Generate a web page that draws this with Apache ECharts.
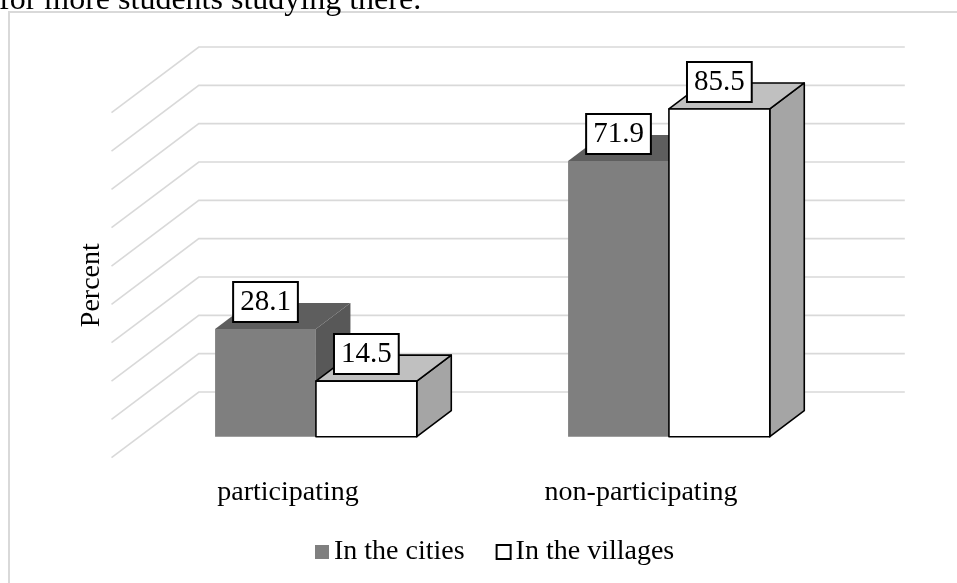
<!DOCTYPE html>
<html>
<head>
<meta charset="utf-8">
<script src="https://cdn.jsdelivr.net/npm/echarts@6/dist/echarts.min.js"></script>
<style>
  html, body { margin: 0; padding: 0; background: #fff; }
  #chart { width: 957px; height: 583px; }
</style>
</head>
<body>
<div id="chart"></div>
<script>
// Share of students by participation, split by place of residence (percent)
const categories = ['participating', 'non-participating'];
const citiesValues = [28.1, 71.9];
const villagesValues = [14.5, 85.5];
const seriesNames = ['In the cities', 'In the villages'];
const gridValues = [0, 10, 20, 30, 40, 50, 60, 70, 80, 90];

const FONT = "'Liberation Serif', 'Times New Roman', serif";
// Oblique depth vector of the floor, from its front edge to the back wall (px)
const DEPTH = [87.3, -65.7];
// Bars stand between these fractions of the floor depth
const BAR_FRONT = 0.32;
const BAR_BACK = 0.715;

const faces = [
  { front: '#7f7f7f', top: '#5e5e5e', side: '#585858', stroke: null },
  { front: '#ffffff', top: '#c0c0c0', side: '#a5a5a5', stroke: '#000000' }
];

// Back wall and left wall gridlines: one bent line per tick value
function wallRenderer(params, api) {
  const v = api.value(1);
  const cs = params.coordSys;
  const y = api.coord([0, v])[1];
  const xl = cs.x;
  const xr = cs.x + cs.width;
  return {
    type: 'polyline',
    shape: { points: [[xl, y], [xl + DEPTH[0], y + DEPTH[1]], [xr + DEPTH[0], y + DEPTH[1]]] },
    style: { stroke: '#d9d9d9', lineWidth: 1.6, fill: null }
  };
}

// Pseudo-3D column: front, top and side faces plus a boxed value label
function barRenderer(slot) {
  return function (params, api) {
    const idx = api.value(0);
    const val = api.value(1);
    const top = api.coord([idx, val]);
    const base = api.coord([idx, 0]);
    const band = api.size([1, 0])[0];
    const w = band / 3.5;
    const x0 = top[0] - w + slot * w;
    const x1 = x0 + w;
    const fx = DEPTH[0] * BAR_FRONT, fy = DEPTH[1] * BAR_FRONT;
    const bx = DEPTH[0] * BAR_BACK, by = DEPTH[1] * BAR_BACK;
    const c = faces[slot];
    const edge = c.stroke
      ? { stroke: c.stroke, lineWidth: 1.6, lineJoin: 'round' }
      : { stroke: null };
    const yt = top[1], yb = base[1];
    return {
      type: 'group',
      children: [
        {
          type: 'polygon',
          shape: { points: [[x1 + fx, yt + fy], [x1 + bx, yt + by], [x1 + bx, yb + by], [x1 + fx, yb + fy]] },
          style: Object.assign({ fill: c.side }, edge)
        },
        {
          type: 'polygon',
          shape: { points: [[x0 + fx, yt + fy], [x0 + bx, yt + by], [x1 + bx, yt + by], [x1 + fx, yt + fy]] },
          style: Object.assign({ fill: c.top }, edge)
        },
        {
          type: 'rect',
          shape: { x: x0 + fx, y: yt + fy, width: w, height: yb - yt },
          style: Object.assign({ fill: c.front }, edge)
        },
        {
          type: 'text',
          z2: 10,
          style: {
            text: val.toFixed(1),
            x: (x0 + x1) / 2 + fx,
            y: yt + fy - 27,
            align: 'center',
            verticalAlign: 'middle',
            font: '29px ' + FONT,
            fill: '#000',
            backgroundColor: '#fff',
            borderColor: '#000',
            borderWidth: 2,
            padding: [5, 6, 3, 6],
            lineHeight: 30
          }
        }
      ]
    };
  };
}

const chart = echarts.init(document.getElementById('chart'), null, { renderer: 'canvas' });

chart.setOption({
  backgroundColor: '#ffffff',
  animation: false,
  graphic: [
    {
      type: 'rect',
      z: -10,
      shape: { x: 9, y: 12, width: 1200, height: 1200 },
      style: { fill: null, stroke: '#d9d9d9', lineWidth: 2 }
    },
    {
      type: 'text',
      style: {
        text: 'for more students studying there.',
        x: -1,
        y: 1,
        verticalAlign: 'middle',
        font: '32px ' + FONT,
        fill: '#000'
      }
    }
  ],
  grid: { left: 111.5, top: 112.7, width: 706, height: 345 },
  legend: {
    left: 315,
    top: 538,
    padding: 0,
    itemWidth: 14,
    itemHeight: 14,
    itemGap: 31,
    selectedMode: false,
    textStyle: { fontSize: 28, fontFamily: FONT, color: '#000' },
    data: [
      { name: seriesNames[0], icon: 'rect', itemStyle: { color: faces[0].front, borderWidth: 0 } },
      { name: seriesNames[1], icon: 'rect', itemStyle: { color: '#ffffff', borderColor: '#000', borderWidth: 2 } }
    ]
  },
  xAxis: {
    type: 'category',
    data: categories,
    axisLine: { show: false },
    axisTick: { show: false },
    splitLine: { show: false },
    axisLabel: { fontSize: 28, fontFamily: FONT, color: '#000', margin: 21 }
  },
  yAxis: {
    type: 'value',
    min: 0,
    max: 90,
    interval: 10,
    axisLine: { show: false },
    axisTick: { show: false },
    axisLabel: { show: false },
    splitLine: { show: false },
    name: 'Percent',
    nameLocation: 'middle',
    nameGap: 6,
    nameTextStyle: { fontSize: 28, fontFamily: FONT, color: '#000' }
  },
  series: [
    {
      name: 'walls',
      type: 'custom',
      z: 1,
      silent: true,
      renderItem: wallRenderer,
      data: gridValues.map(v => [0, v])
    },
    {
      name: seriesNames[0],
      type: 'custom',
      z: 2,
      silent: true,
      itemStyle: { color: faces[0].front },
      renderItem: barRenderer(0),
      data: citiesValues.map((v, i) => [i, v])
    },
    {
      name: seriesNames[1],
      type: 'custom',
      z: 3,
      silent: true,
      itemStyle: { color: '#ffffff', borderColor: '#000' },
      renderItem: barRenderer(1),
      data: villagesValues.map((v, i) => [i, v])
    }
  ]
});
</script>
</body>
</html>
